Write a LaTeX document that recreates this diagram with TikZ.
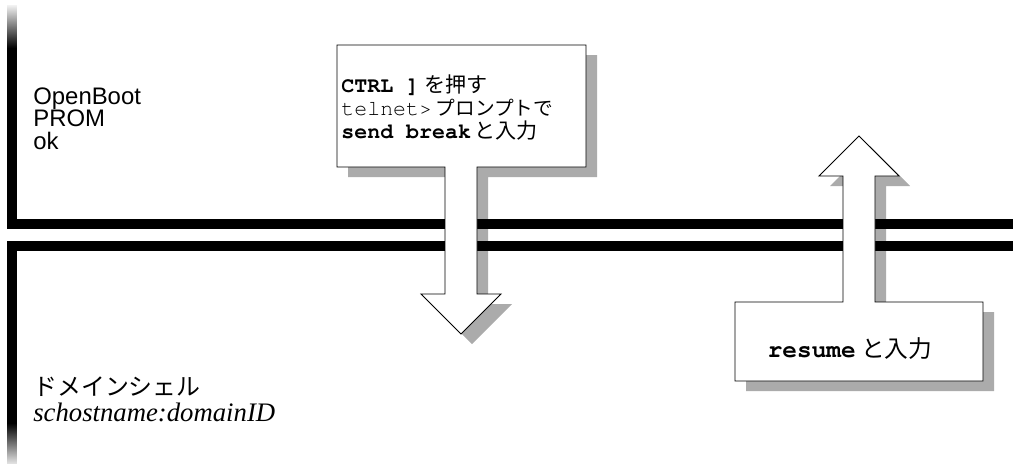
\documentclass[tikz,border=0pt]{standalone}
\usepackage{fontspec}
\setmainfont{Liberation Sans}
\setmonofont{TeX Gyre Cursor}
\newfontfamily\jpfont{Noto Sans CJK JP}
\newfontfamily\itserif{Liberation Serif}
\usetikzlibrary{shapes,arrows}
\tikzstyle{bar} = [fill=black]
\tikzstyle{dropshadow} = [fill=black!33, draw=none]
\tikzstyle{callout} = [draw=black, fill=white, line width=0.5pt]

\begin{document}
\begin{tikzpicture}
        \useasboundingbox (0,0) rectangle (20.26,-9.26);

        \fill [dropshadow, xshift=0.22cm, yshift=-0.2cm] (6.74,-0.90) -- (11.72,-0.90) -- (11.72,-3.34) -- (9.54,-3.34) -- (9.54,-5.88) -- (10.02,-5.88) -- (9.22,-6.68) -- (8.42,-5.88) -- (8.90,-5.88) -- (8.90,-3.34) -- (6.74,-3.34) -- cycle;
        \fill [dropshadow, xshift=0.22cm, yshift=-0.2cm] (14.70,-6.04) -- (16.86,-6.04) -- (16.86,-3.52) -- (16.38,-3.52) -- (17.18,-2.72) -- (17.98,-3.52) -- (17.50,-3.52) -- (17.50,-6.04) -- (19.66,-6.04) -- (19.66,-7.62) -- (14.70,-7.62) -- cycle;

        \shade [top color=black!5, bottom color=black] (0.14,-0.10) rectangle (0.34,-0.96);
        \fill [bar] (0.14,-0.95) rectangle (0.34,-4.58);
        \fill [bar] (0.14,-4.38) rectangle (20.26,-4.58);
        \fill [bar] (0.14,-4.82) rectangle (20.26,-5.02);
        \fill [bar] (0.14,-4.82) rectangle (0.34,-8.47);
        \shade [top color=black, bottom color=black!12] (0.14,-8.46) rectangle (0.34,-9.26);

        \draw [callout] (6.74,-0.90) -- (11.72,-0.90) -- (11.72,-3.34) -- (9.54,-3.34) -- (9.54,-5.88) -- (10.02,-5.88) -- (9.22,-6.68) -- (8.42,-5.88) -- (8.90,-5.88) -- (8.90,-3.34) -- (6.74,-3.34) -- cycle;
        \draw [callout] (14.70,-6.04) -- (16.86,-6.04) -- (16.86,-3.52) -- (16.38,-3.52) -- (17.18,-2.72) -- (17.98,-3.52) -- (17.50,-3.52) -- (17.50,-6.04) -- (19.66,-6.04) -- (19.66,-7.62) -- (14.70,-7.62) -- cycle;

        \node (OBP) [anchor=north west, inner sep=0, align=left, font=\fontsize{13.6}{13}\selectfont] at (0.66,-1.74) {OpenBoot\\PROM\\ok};
        \node (Dsh) [anchor=north west, inner sep=0, align=left, font=\fontsize{15.2}{15}\selectfont] at (0.66,-7.52) {{\jpfont\fontsize{13.6}{15}\selectfont ドメインシェル}\\{\itserif\itshape schostname:domainID}};

        \node (Brk) [anchor=north west, inner sep=0, align=left, font=\fontsize{12.3}{13.3}\selectfont] at (6.82,-1.48) {{\ttfamily\bfseries CTRL ]}\hspace{3pt}{\jpfont\fontsize{12}{13.3}\selectfont を押す}\\
        {\ttfamily telnet>}\hspace{2pt}{\jpfont\fontsize{11.2}{13.3}\selectfont プロンプトで}\\
        {\ttfamily\bfseries send break}\hspace{2pt}{\jpfont\fontsize{12}{13.3}\selectfont と入力}};

        \node (Rsm) [font=\fontsize{13.9}{14}\selectfont] at (17.00,-6.98) {{\ttfamily\bfseries resume}\hspace{3pt}{\jpfont\fontsize{13.5}{14}\selectfont と入力}};

    \end{tikzpicture}
\end{document}
